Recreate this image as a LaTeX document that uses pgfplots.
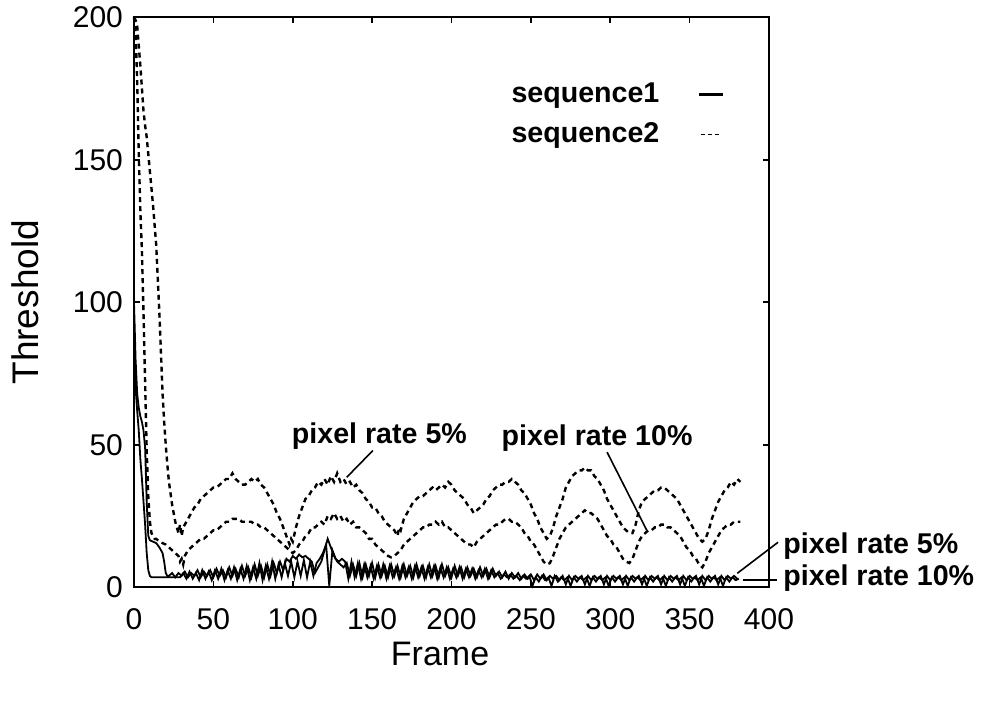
\documentclass[border=0pt]{standalone}
\usepackage{fontspec}
\setmainfont{Liberation Sans}
\usepackage{pgfplots}
\pgfplotsset{compat=1.18}
\pgfplotsset{
  legA/.style={legend image code/.code={\draw[##1] (0pt,0pt) -- (12pt,0pt);}},
  legB/.style={legend image code/.code={\draw[##1] (1pt,0pt) -- (11pt,0pt);}},
}
\begin{document}
\begin{tikzpicture}
\begin{axis}[name=ax, scale only axis, width=317.5pt, height=285pt,
  xmin=0, xmax=400, ymin=0, ymax=200,
  xtick={0,50,...,400}, ytick={0,50,...,200},
  tick align=inside, tick pos=both, major tick length=3pt,
  every tick/.style={black, line width=0.8pt},
  axis line style={line width=1pt},
  /pgf/number format/assume math mode=true,
  tick label style={font=\fontsize{15}{18}\selectfont},
  xticklabel style={yshift=-7pt},
  yticklabel style={xshift=-2pt},
  xlabel={Frame}, ylabel={Threshold},
  xlabel style={font=\fontsize{17}{20}\selectfont, at={(axis description cs:0.482,-0.1175)}, anchor=center},
  ylabel style={font=\fontsize{18.5}{22}\selectfont, at={(axis description cs:-0.171,0.5)}, anchor=center},
  clip=false,
  legend plot pos=right,
  legend cell align=right,
  legend style={at={(0.9307,0.8956)}, anchor=north east, draw=none, fill=none,
    inner sep=0pt, row sep=2.5pt,
    font=\bfseries\fontsize{14.3}{17}\selectfont,
    nodes={inner sep=2pt, text height=10.5pt, text depth=3pt},
    /tikz/every odd column/.append style={column sep=17pt}},
]
\addlegendimage{black, line width=1.6pt, legA}
\addlegendentry{sequence1}
\addlegendimage{black, line width=0.8pt, dash pattern=on 2pt off 1.5pt, legB}
\addlegendentry{sequence2}

% sequence2, pixel rate 5%
\addplot[forget plot, black, line width=1.2pt, dash pattern=on 2.5pt off 2pt] coordinates {
(0,200)(1,199)(2,197)(3,190)(4,183)(5,175)(6,167)(7,162)(8,158)(9,152)(10,146)(11,140)(12,134)(13,127)(14,120)
(15,108)(16,96)(17,82)(18,68)(19,58)(20,50)(21,43)(22,37)(23,33)(24,29)(25,26)(26,23)(27,21)(28,19)(29,22)(30,18)(31,21)
(32,22)(34,24)(36,26)(38,28)(40,29)(42,31)(44,32)(46,33)(48,34)(50,35)(52,35)(54,36)(56,37)(58,38)(60,38)(62,40)
(64,38)(66,37)(68,36)(70,36)(72,37)(74,38)(76,37)(78,38)(80,36)(82,35)(84,33)(86,31)(88,29)(90,26)(92,24)(94,21)
(96,18)(98,15)(99,17)(100,16)(102,21)(104,25)(106,28)(108,31)(110,32)(112,34)(114,35)(116,37)(118,36)(120,38)
(122,36)(124,39)(126,37)(128,40)(130,37)(132,38)(134,36)(136,37)(138,35)(140,36)(142,34)(144,33)(146,31)(148,30)
(150,28)(152,28)(154,26)(156,25)(158,23)(160,22)(162,21)(164,20)(166,18)(167,21)(168,20)(170,24)(172,26)(174,28)
(176,30)(178,31)(180,32)(182,32)(184,33)(186,34)(188,35)(190,34)(192,35)(194,36)(196,35)(198,37)(200,36)(202,34)
(204,33)(206,32)(208,31)(210,29)(212,28)(214,26)(216,27)(218,28)(220,29)(222,31)(224,32)(226,34)(228,35)(230,36)
(232,36)(234,37)(236,37)(238,38)(240,37)(242,36)(244,34)(246,33)(248,31)(250,29)(252,26)(254,24)(256,21)(258,19)
(260,17)(262,18)(264,21)(266,25)(268,28)(270,31)(272,35)(274,37)(276,39)(278,40)(280,41)(282,41)(284,42)(286,41)
(288,41)(290,39)(292,38)(294,36)(296,34)(298,31)(300,29)(302,27)(304,25)(306,23)(308,21)(310,20)(312,19)(314,19)
(316,22)(318,27)(320,30)(322,31)(324,32)(326,33)(328,34)(330,34)(332,35)(334,35)(336,34)(338,33)(340,32)(342,31)
(344,29)(346,27)(348,25)(350,23)(352,21)(354,19)(356,17)(358,16)(360,17)(362,20)(364,24)(366,27)(368,30)(370,32)
(372,34)(374,35)(376,37)(378,36)(380,38)(382,37)
};

% sequence2, pixel rate 10%
\addplot[forget plot, black, line width=1.2pt, dash pattern=on 2.5pt off 2pt] coordinates {
(0,200)(1,195)(2,178)(3,152)(4,132)(5,118)(6,96)(7,72)(8,48)(9,32)(10,23)(11,19)(12,18)(13,17)(14,17)(16,16)
(18,15.5)(20,15)(22,14)(24,13)(26,12)(28,11)(29,9)(30,10)(31,8)(32,11)
(34,13)(36,14)(38,15)(40,16)(42,17)(44,17)(46,18)(48,19)(50,20)(52,20)(54,21)(56,22)(58,23)(60,23)(62,24)(64,24)
(66,24)(68,23)(70,23)(72,23)(74,23)(76,22)(78,22)(80,21)(82,21)(84,20)(86,19)(88,18)(90,17)(92,16)(94,15)(96,14)
(98,13)(100,12)(102,13)(104,15)(106,16)(108,18)(110,19)(112,21)(114,21)(116,22)(118,23)(120,22)(122,25)(124,24)
(126,26)(128,24)(130,25)(132,23)(134,24)(136,22)(138,23)(140,21)(142,21)(144,20)(146,19)(148,17)(150,17)(152,15)
(154,14)(156,13)(158,12)(160,11)(162,10.5)(164,11)(166,12)(168,13)(170,15)(172,16)(174,17)(176,18)(178,19)(180,20)
(182,21)(184,21)(186,22)(188,22)(190,23)(192,22)(194,23)(196,21)(198,21)(200,20)(202,19)(204,18)(206,17)(208,16)
(210,15)(212,15)(214,14)(216,16)(218,17)(220,18)(222,19)(224,20)(226,21)(228,22)(230,22)(232,23)(234,24)(236,24)
(238,23)(240,23)(242,22)(244,21)(246,19)(248,18)(250,16)(252,15)(254,13)(256,11)(258,9)(260,8)(262,8.5)(264,11)
(266,14)(268,17)(270,19)(272,21)(274,22)(276,23)(278,24)(280,25)(282,26)(284,27)(286,26)(288,26)(290,25)(292,24)
(294,22)(296,20)(298,18)(300,17)(302,15)(304,14)(306,12)(308,10)(310,9)(312,8.5)(314,10)(316,13)(318,16)(320,18)
(322,19)(324,20)(326,20)(328,21)(330,21)(332,22)(334,22)(336,21)(338,21)(340,20)(342,19)(344,18)(346,16)(348,14)
(350,13)(352,11)(354,10)(356,8)(358,7)(360,9)(362,12)(364,14)(366,16)(368,18)(370,20)(372,21)(374,22)(376,22)
(378,23)(380,23)(382,23)
};

% sequence1, pixel rate 5%
\addplot[forget plot, black, line width=0.9pt] coordinates {
(0,100)(1,80)(2,68)(3,63)(4,60)(5,58)(6,55)(7,49)(8,30)(9,18)(10,16.5)(12,16)(14,15.5)(16,14)(18,12)(19,9)(20,5)(21,4)
(22,4)(24,5)(26,3.5)(28,5)(30,4)(32,5.5)(34,3.5)(36,5)(38,4)(40,6)(42,3.5)(44,5.5)(46,4)(48,6)(50,3.5)(52,6.5)
(54,4)(56,6)(58,3.5)(60,7)(62,4)(64,6.5)(66,3.5)(68,7.5)(70,4)(72,7)(74,3.5)(76,8)(78,4)(80,7.5)(82,3.5)(84,8)
(86,4)(88,8.5)(90,5)(92,9)(94,6)(96,10)(98,9)(100,11)(102,10)(104,11.5)(106,10.5)(108,11)(110,10)(112,9)(114,5)
(116,7)(118,9)(120,13)(122,17)(124,14)(126,11)(128,9)(130,8)(132,7)(134,8.5)(136,4)(138,8)(140,4)(142,8.5)
(144,3.5)(146,8)(148,4)(150,8.5)(152,3.5)(154,8)(156,4)(158,7.5)(160,3.5)(162,8)(164,4)(166,7.5)(168,3.5)(170,8)
(172,4)(174,7.5)(176,3.5)(178,8)(180,4)(182,7.5)(184,3.5)(186,8)(188,4)(190,7.5)(192,3.5)(194,8)(196,4)(198,7)
(200,3.5)(202,7.5)(204,4)(206,7)(208,3.5)(210,7)(212,4)(214,6.5)(216,3.5)(218,7)(220,4)(222,6.5)(224,3.5)(226,6.5)
(228,4)(230,5.5)(232,3.5)(234,5.5)(236,3)(238,5)(240,3.5)(242,5)(244,3)(246,4.5)(248,3)(250,4.5)(252,2.5)(254,4.5)
(256,3)(258,4.5)(260,2.5)(262,4)(264,3)(266,4)(268,2.5)(270,4)(272,1)(274,4)(276,2.5)(278,4)(280,3)(282,4)
(284,1)(286,4)(288,2.5)(290,4)(292,3)(294,4)(296,1)(298,4)(300,2.5)(302,4)(304,3)(306,4)(308,1)(310,4)
(312,2.5)(314,4)(316,3)(318,4)(320,1)(322,4)(324,2.5)(326,4)(328,3)(330,4)(332,1)(334,4)(336,2.5)(338,4)
(340,3)(342,4)(344,1)(346,4)(348,2.5)(350,4)(352,3)(354,4)(356,1)(358,4)(360,2.5)(362,4)(364,3)(366,4)
(368,1)(370,4)(372,2.5)(374,4)(376,3)(378,4)(380,3)
};

% sequence1, pixel rate 10%
\addplot[forget plot, black, line width=0.9pt] coordinates {
(0,95)(1,70)(2,62)(3,55)(4,45)(5,38)(6,30)(7,22)(8,12)(9,6)(10,4)(11,3.5)(20,3.5)(29,3.5)
(31,5)(33,3)(35,5.5)(37,3)(39,5)(41,2.5)(43,6)(45,3)(47,5.5)(49,2.5)(51,6)(53,3)(55,6.5)(57,2.5)(59,6)(61,3)
(63,7)(65,2.5)(67,6.5)(69,3)(71,7.5)(73,2.5)(75,7)(77,3)(79,8.5)(81,2.5)(83,7.5)(85,3)(87,9)(89,3)(91,8)(93,3.5)
(95,8.5)(97,4)(99,9)(101,3.5)(103,9)(105,4)(107,9.5)(109,3.5)(111,9)(113,4)(115,8.5)(117,10)(119,12)(121,15)
(123,0.5)(125,13)(127,10)(129,9)(131,10)(133,9)(135,3)(137,9)(139,3.5)(141,8.5)(143,3)(145,8)(147,3.5)(149,7.5)
(151,3)(153,7.5)(155,3.5)(157,8)(159,3)(161,7.5)(163,3.5)(165,7)(167,3)(169,7.5)(171,3.5)(173,7)(175,3)(177,7.5)
(179,3.5)(181,7)(183,3)(185,7)(187,3.5)(189,7.5)(191,3)(193,7)(195,3.5)(197,7)(199,3)(201,6.5)(203,3.5)(205,7)
(207,3)(209,6.5)(211,3.5)(213,6.5)(215,3)(217,6)(219,3.5)(221,6.5)(223,3)(225,6)(227,3.5)(229,5)(231,3)(233,4.5)
(235,3.5)(237,4.5)(239,3)(241,4)(243,2.5)(245,4)(247,3)(249,4)(251,0.5)(253,3.5)(255,2)(257,4)(259,2.5)(261,3.5)
(263,0.5)(265,4)(267,2)(269,3.5)(271,2.5)(273,3.5)(275,0.5)(277,3.5)(279,2)(281,3.5)(283,2.5)(285,3.5)(287,0.5)
(289,3.5)(291,2)(293,3.5)(295,2.5)(297,3.5)(299,0.5)(301,3.5)(303,2)(305,3.5)(307,2.5)(309,3.5)(311,0.5)(313,3.5)
(315,2)(317,3.5)(319,2.5)(321,3.5)(323,0.5)(325,3.5)(327,2)(329,3.5)(331,2.5)(333,3.5)(335,0.5)(337,3.5)(339,2)
(341,3.5)(343,2.5)(345,3.5)(347,0.5)(349,3.5)(351,2)(353,3.5)(355,2.5)(357,3.5)(359,0.5)(361,3.5)(363,2)(365,3.5)
(367,2.5)(369,3.5)(371,0.5)(373,3.5)(375,2)(377,3.5)(379,2.5)(381,3)
};

% annotations
\node[anchor=base, font=\bfseries\fontsize{14.3}{17}\selectfont] at (axis cs:154.6,50.5) {pixel rate 5\%};
\node[anchor=base, font=\bfseries\fontsize{14.3}{17}\selectfont] at (axis cs:291.7,49.8) {pixel rate 10\%};
\node[anchor=base west, inner sep=0pt, font=\bfseries\fontsize{14.3}{17}\selectfont] at (axis cs:408.8,11.9) {pixel rate 5\%};
\node[anchor=base west, inner sep=0pt, font=\bfseries\fontsize{14.3}{17}\selectfont] at (axis cs:408.8,0.7) {pixel rate 10\%};
\draw[line width=0.8pt] (axis cs:150.5,48) -- (axis cs:134,38.6);
\draw[line width=0.8pt] (axis cs:298,47.4) -- (axis cs:323,20);
\draw[line width=0.8pt] (axis cs:405.7,15.8) -- (axis cs:380,4.9);
\draw[line width=0.8pt] (axis cs:383.6,2.5) -- (axis cs:405,2.5);
\end{axis}
\path (ax.south west) ++(-67pt,-58pt) rectangle ++(491.5pt,351.5pt);
\end{tikzpicture}
\end{document}
